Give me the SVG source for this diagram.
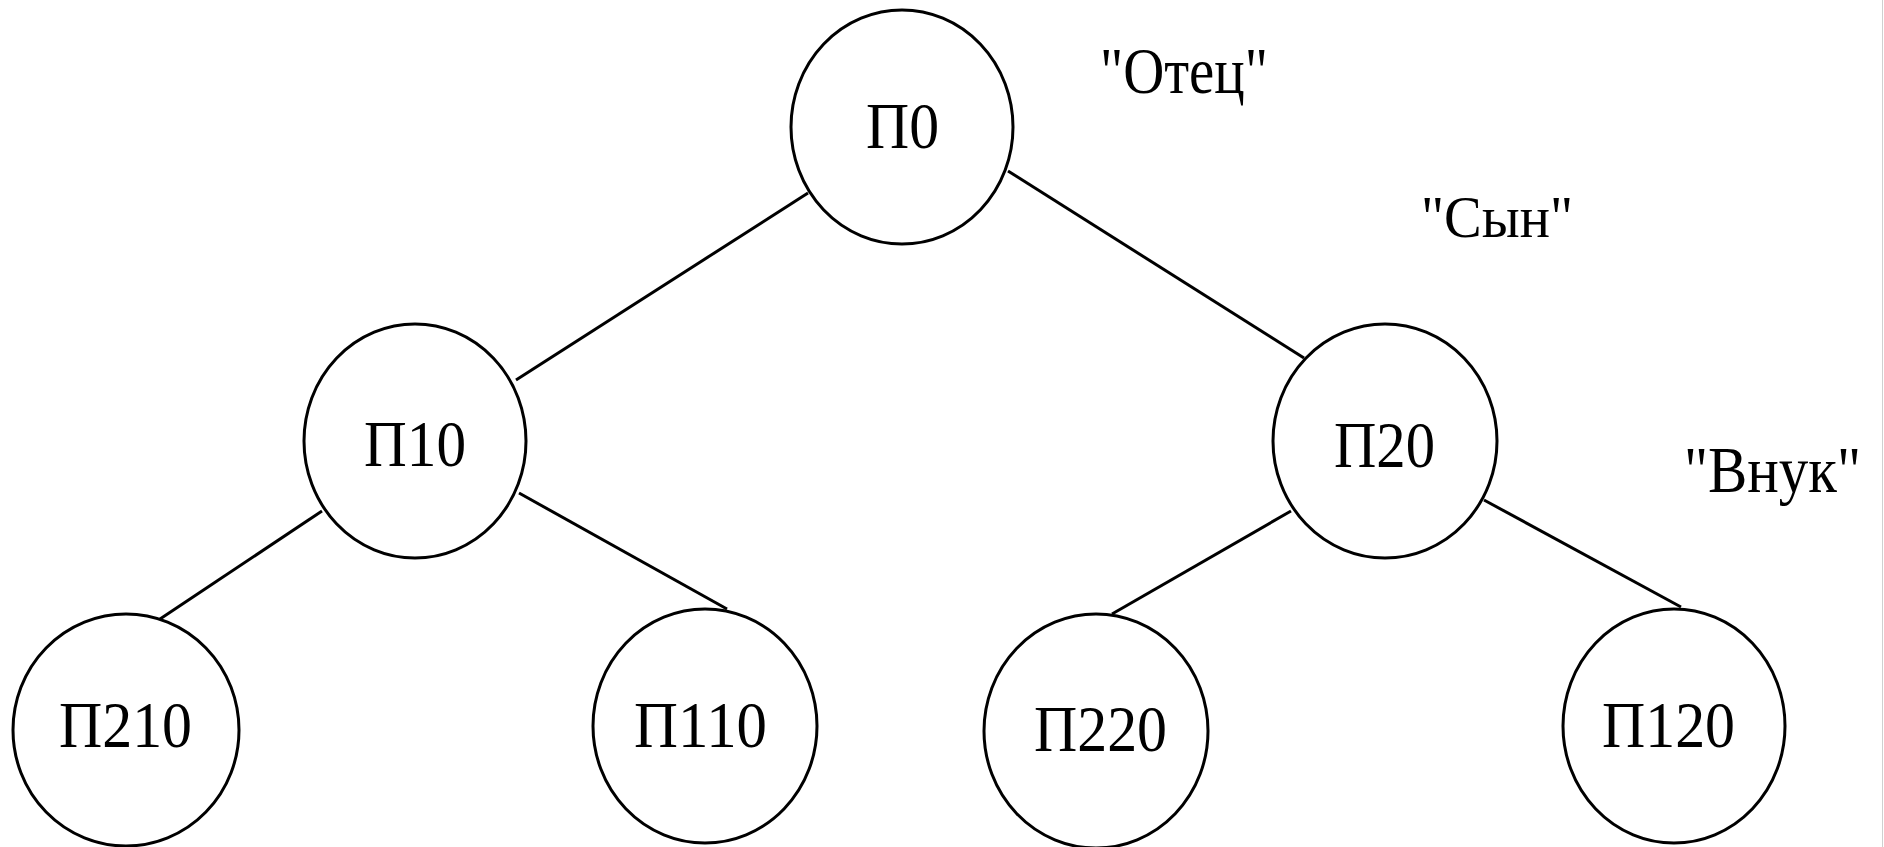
<svg xmlns="http://www.w3.org/2000/svg" width="1884" height="847" viewBox="0 0 1884 847">
<style>
.node ellipse{fill:none;stroke:#000;stroke-width:3}
.node text,.label{font-family:"Liberation Serif","Times New Roman",serif;font-size:66px;fill:#000}
#edges line{stroke:#000;stroke-width:3}
</style>
<rect width="1884" height="847" fill="#fff"/>
<line x1="1882.5" y1="0" x2="1882.5" y2="847" stroke="#d0d0d0" stroke-width="1"/>
<g id="edges">
<line x1="808" y1="193" x2="516" y2="380"/>
<line x1="1008" y1="171" x2="1304" y2="358"/>
<line x1="322" y1="511" x2="160" y2="619"/>
<line x1="519" y1="493" x2="727" y2="609"/>
<line x1="1291" y1="511" x2="1112" y2="614"/>
<line x1="1484" y1="500" x2="1681" y2="607"/>
</g>
<g id="P0" class="node"><ellipse cx="902" cy="127" rx="111" ry="117"/><text x="866" y="148" textLength="73" lengthAdjust="spacingAndGlyphs">П0</text></g>
<g id="P10" class="node"><ellipse cx="415" cy="441" rx="111" ry="117"/><text x="364" y="466" textLength="102" lengthAdjust="spacingAndGlyphs">П10</text></g>
<g id="P20" class="node"><ellipse cx="1385" cy="441" rx="112" ry="117"/><text x="1334" y="467" textLength="101" lengthAdjust="spacingAndGlyphs">П20</text></g>
<g id="P210" class="node"><ellipse cx="126" cy="730" rx="113" ry="116"/><text x="59" y="747" textLength="133" lengthAdjust="spacingAndGlyphs">П210</text></g>
<g id="P110" class="node"><ellipse cx="705" cy="726" rx="112" ry="117"/><text x="634" y="747" textLength="133" lengthAdjust="spacingAndGlyphs">П110</text></g>
<g id="P220" class="node"><ellipse cx="1096" cy="731" rx="112" ry="117"/><text x="1034" y="751" textLength="133" lengthAdjust="spacingAndGlyphs">П220</text></g>
<g id="P120" class="node"><ellipse cx="1674" cy="726" rx="111" ry="117"/><text x="1602" y="747" textLength="133" lengthAdjust="spacingAndGlyphs">П120</text></g>
<g id="labels">
<text class="label" x="1100" y="93" textLength="168" lengthAdjust="spacingAndGlyphs">"Отец"</text>
<text class="label" x="1421" y="237" textLength="152" lengthAdjust="spacingAndGlyphs" style="font-size:60px">"Сын"</text>
<text class="label" x="1684" y="492" textLength="177" lengthAdjust="spacingAndGlyphs">"Внук"</text>
</g>
</svg>
